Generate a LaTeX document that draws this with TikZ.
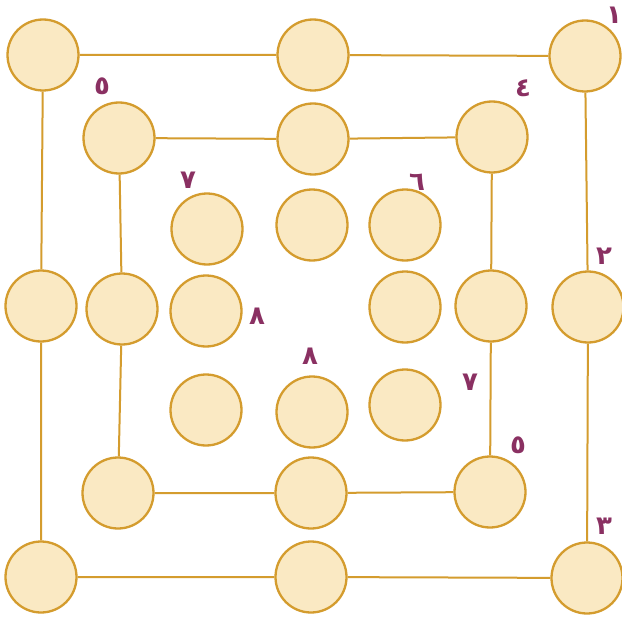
\documentclass[tikz,border=0pt]{standalone}
\usepackage{fontspec}
\newfontfamily\arabicfont[Script=Arabic]{DejaVu Sans}
\definecolor{ringcol}{RGB}{212,156,46}
\definecolor{fillcol}{RGB}{250,233,195}
\definecolor{numcol}{RGB}{138,48,98}
\tikzset{
  cell/.style={circle, draw=ringcol, fill=fillcol, line width=2.3pt, minimum size=71pt, inner sep=0pt},
  link/.style={draw=ringcol, line width=2pt},
  num/.style={text=numcol, font=\arabicfont\bfseries\fontsize{26}{26}\selectfont, inner sep=0pt}
}
\begin{document}
\begin{tikzpicture}[x=1pt,y=-1pt]
\useasboundingbox[fill=white] (0,0) rectangle (622,618);
% outer square
\node[cell] (o1) at (43,55) {};
\node[cell] (o2) at (313,55) {};
\node[cell] (o3) at (585,56) {};
\node[cell] (o4) at (41,306) {};
\node[cell] (o5) at (588,307) {};
\node[cell] (o6) at (41,577) {};
\node[cell] (o7) at (311,577) {};
\node[cell] (o8) at (587,578) {};
% middle square
\node[cell] (m1) at (119,138) {};
\node[cell] (m2) at (313,139) {};
\node[cell] (m3) at (492,137) {};
\node[cell] (m4) at (122,309) {};
\node[cell] (m5) at (491,306) {};
\node[cell] (m6) at (118,493) {};
\node[cell] (m7) at (311,493) {};
\node[cell] (m8) at (490,492) {};
% inner square
\node[cell] (i1) at (207,229) {};
\node[cell] (i2) at (312,225) {};
\node[cell] (i3) at (405,225) {};
\node[cell] (i4) at (206,311) {};
\node[cell] (i5) at (405,307) {};
\node[cell] (i6) at (206,410) {};
\node[cell] (i7) at (312,412) {};
\node[cell] (i8) at (405,405) {};
% connectors
\path[link] (o1) -- (o2) (o2) -- (o3) (o3) -- (o5) (o5) -- (o8)
            (o8) -- (o7) (o7) -- (o6) (o6) -- (o4) (o4) -- (o1);
\path[link] (m1) -- (m2) (m2) -- (m3) (m3) -- (m5) (m5) -- (m8)
            (m8) -- (m7) (m7) -- (m6) (m6) -- (m4) (m4) -- (m1);
% numbers
\node[num] (n1) at (614,15) {١};
\node[num] (n5a) at (102,86) {٥};
\node[num] (n4) at (523,88) {٤};
\node[num] (n7a) at (188,180) {٧};
\node[num] (n6) at (417,182) {٦};
\node[num] (n2) at (604,256) {٢};
\node[num] (n8a) at (257,316) {٨};
\node[num] (n8b) at (310,356) {٨};
\node[num] (n7b) at (470,382) {٧};
\node[num] (n5b) at (518,445) {٥};
\node[num] (n3) at (604,526) {٣};
\end{tikzpicture}
\end{document}
